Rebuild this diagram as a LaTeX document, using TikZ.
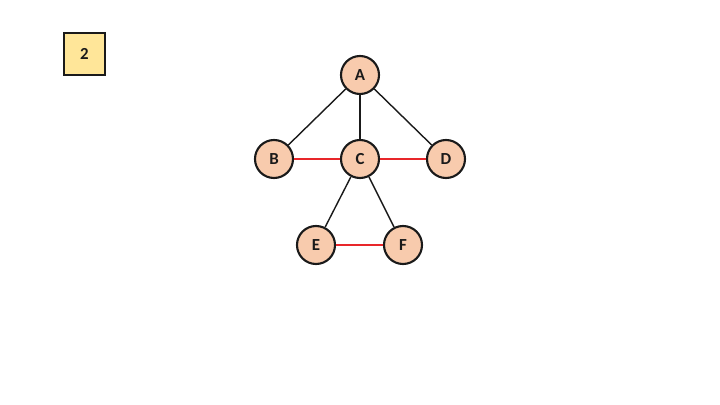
\documentclass[tikz,border=0pt]{standalone}
\usepackage{fontspec}
\setmainfont{Carlito}
\usetikzlibrary{positioning}
\definecolor{gPeach}{HTML}{F8CBAD}
\definecolor{gYellow}{HTML}{FFE699}
\definecolor{gInk}{HTML}{1A1A1A}
\definecolor{gRed}{HTML}{E8262A}
\tikzset{
  gVertex/.style={circle,draw=gInk,fill=gPeach,line width=1.5pt,
    minimum size=0.95cm,inner sep=0pt,font=\bfseries\fontsize{12}{13}\selectfont,text=gInk},
  gTag/.style={draw=gInk,fill=gYellow,line width=1.5pt,minimum size=1.04cm,
    inner sep=0pt,font=\bfseries\fontsize{12}{13}\selectfont,text=gInk},
  gEdge/.style={line width=1pt,draw=gInk},
  gMatch/.style={line width=1pt,draw=gRed}
}
\begin{document}
\begin{tikzpicture}[x=0.025cm,y=-0.025cm]
\path[use as bounding box] (0,0) rectangle (720,405);
\node[gTag] (tag) at (84.5,54) {2};
\node[gVertex] (a) at (360,75) {A};
\node[gVertex] (b) at (274,159) {B};
\node[gVertex] (c) at (360,159) {C};
\node[gVertex] (d) at (446,159) {D};
\node[gVertex] (e) at (316,245) {E};
\node[gVertex] (f) at (403,245) {F};
\foreach \from/\to in {a/b,a/c,a/d,c/e,c/f}
  \draw[gEdge] (\from) -- (\to);
\foreach \from/\to in {b/c,c/d,e/f}
  \draw[gMatch] (\from) -- (\to);
\end{tikzpicture}
\end{document}
